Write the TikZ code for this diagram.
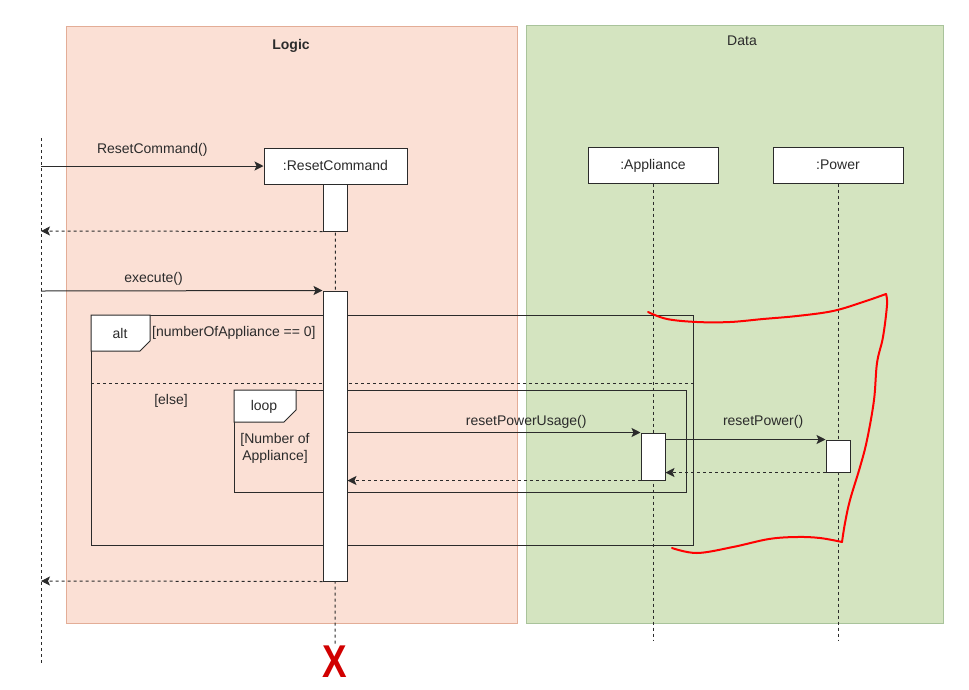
\documentclass[tikz,border=0pt]{standalone}
\usepackage{fontspec}
\setmainfont{Liberation Sans}
\usetikzlibrary{arrows.meta}

\definecolor{logique}{HTML}{FBE0D5}
\definecolor{logiquebord}{HTML}{E3AD97}
\definecolor{donnees}{HTML}{D4E4C0}
\definecolor{donneesbord}{HTML}{A9C39B}
\definecolor{trait}{HTML}{2B2B2B}

\begin{document}
\begin{tikzpicture}[x=1pt,y=-1pt,font=\fontsize{14}{17}\selectfont]
			% Styles
			\tikzstyle{fleche}=[-{Stealth[length=9pt,width=9pt,inset=2pt]},line width=1pt,color=trait]
			\tikzstyle{retour}=[fleche,dash pattern=on 3pt off 3pt]
			\tikzstyle{vie}=[line width=1pt,dash pattern=on 3pt off 3pt,color=trait]
			\tikzstyle{objet}=[draw=trait,fill=white,line width=1pt,minimum width=130pt,minimum height=36pt,inner sep=0pt,text=trait,text height=10pt,text depth=1pt]
			\tikzstyle{activation}=[draw=trait,fill=white,line width=1pt,minimum width=24pt,inner sep=0pt]
			\tikzstyle{cadre}=[draw=trait,line width=1pt]
			\tikzstyle{onglet}=[cadre,fill=white]
			\tikzstyle{texte}=[text=trait,inner sep=0pt]
			\tikzstyle{etiquette}=[texte,above=4pt]
			\tikzstyle{croix}=[text=red!82!black,inner sep=0pt,font=\fontsize{46}{46}\selectfont\bfseries]
			\tikzstyle{annotation}=[red,line width=2pt,line cap=round,line join=round]
			\useasboundingbox (0,0) rectangle (969,689);
			% Paquets
			\draw[fill=logique,draw=logiquebord,line width=1pt] (66,26) rectangle (517,623);
			\node[texte,font=\fontsize{14}{17}\selectfont\bfseries] (titreL) at (291,46) {Logic};
			\draw[fill=donnees,draw=donneesbord,line width=1pt] (526,25) rectangle (943,623);
			\node[texte] (titreD) at (742,41) {Data};
			% Objets et lignes de vie
			\coordinate (acteurH) at (41,138);
			\coordinate (acteurB) at (41,663);
			\draw[vie] (acteurH) -- (acteurB);
			\node[objet,minimum width=143pt] (RC) at (335.5,166) {:ResetCommand};
			\node[objet] (AP) at (653,165) {:Appliance};
			\node[objet] (PW) at (838,165) {:Power};
			\node[croix] (fin) at (335,662) {\scalebox{0.8}[1]{X}};
			\coordinate (APfin) at (653,640);
			\coordinate (PWfin) at (838,640);
			\draw[vie] (RC.south) -- (fin.north);
			\draw[vie] (AP.south) -- (APfin);
			\draw[vie] (PW.south) -- (PWfin);
			% Cadres alt / loop
			\draw[cadre] (91,315) rectangle (693,545);
			\draw[onglet] (91,315) -- (150,315) -- (150,341) -- (140,351) -- (91,351) -- cycle;
			\node[texte] (altT) at (120,333) {alt};
			\node[texte,anchor=west] (garde) at (152,333) {[numberOfAppliance == 0]};
			\draw[cadre,dash pattern=on 3pt off 3pt] (91,383) -- (693,383);
			\node[texte] (sinon) at (171,401) {[else]};
			\draw[cadre] (234,390) rectangle (686,492);
			\draw[onglet] (234,390) -- (296,390) -- (296,410) -- (284,422) -- (234,422) -- cycle;
			\node[texte] (loopT) at (264,407) {loop};
			\node[texte,align=center] (condition) at (275,448) {[Number of\\Appliance]};
			% Activations
			\node[activation,minimum height=47pt] (act1) at (335,207.5) {};
			\node[activation,minimum height=290pt] (act2) at (335,436) {};
			\node[activation,minimum height=47pt] (act3) at (653,456.5) {};
			\node[activation,minimum height=32pt] (act4) at (838,456) {};
			% Messages
			\coordinate (m1) at (41,166);
			\coordinate (r1) at (41,231);
			\coordinate (m2) at (41,291);
			\coordinate (r2) at (41,581);
			\draw[fleche] (m1) -- (RC.west) node[etiquette,above=5pt,midway] {ResetCommand()};
			\draw[retour] (act1.south west) -- (r1);
			\draw[fleche] (m2) -- (act2.north west) node[etiquette,above=1pt,pos=0.4] {execute()};
			\draw[fleche] (act2.east |- act3.north) -- (act3.north west) node[etiquette,pos=0.61] {resetPowerUsage()};
			\draw[fleche] (act3.east |- act4.north) -- (act4.north west) node[etiquette,above=7pt,pos=0.61] {resetPower()};
			\draw[retour] (act4.south west) -- (act3.east |- act4.south);
			\draw[retour] (act3.south west) -- (act2.east |- act3.south);
			\draw[retour] (act2.south west) -- (r2);
			% Annotation a main levee
			\draw[annotation] plot[smooth,tension=0.6] coordinates {(648,312) (667,319) (697,322) (730,322) (763,319) (797,316) (833,311) (863,302) (886,294)};
			\draw[annotation] plot[smooth,tension=0.6] coordinates {(886,294) (887,305) (883,337) (877,363) (874,400) (867,440) (860,467) (850,500) (845,523) (842,542)};
			\draw[annotation] plot[smooth,tension=0.6] coordinates {(842,542) (820,538) (797,537) (769,539) (733,547) (697,553) (672,548)};
		\end{tikzpicture}
\end{document}
